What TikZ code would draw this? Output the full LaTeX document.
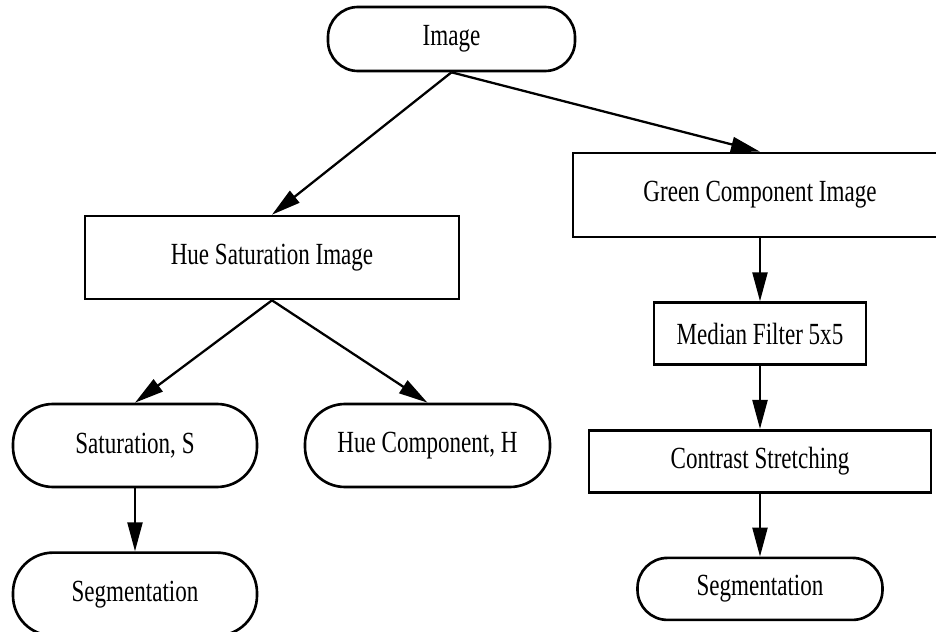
\documentclass[tikz,border=0pt]{standalone}
\usepackage{fontspec}
\setmainfont{Liberation Serif}[FakeStretch=0.75]
\usetikzlibrary{arrows.meta,positioning}
\begin{document}
\begin{tikzpicture}[
  box/.style={draw,line width=1.5pt,inner sep=0pt,
    font=\fontsize{17.5}{20}\selectfont},
  term/.style={box,rounded corners=6mm},
  tall/.style={term,rounded corners=8mm,minimum height=1.66cm},
  f/.style={-{Triangle[length=5.8mm,width=3mm]},line width=1.3pt}]
\clip (0,0) rectangle (18.72,-12.64);
\node[term,minimum width=4.94cm,minimum height=1.28cm] (img) at (9.03,-0.78) {Image};
\node[box,minimum width=7.48cm,minimum height=1.66cm] (hsi) at (5.44,-5.15) {Hue Saturation Image};
\node[box,minimum width=7.48cm,minimum height=1.68cm] (green) at (15.2,-3.9) {Green Component Image};
\node[box,minimum width=4.24cm,minimum height=1.24cm,below=1.26cm of green] (median) {Median Filter 5x5};
\node[box,minimum width=6.84cm,minimum height=1.24cm,below=1.26cm of median] (contrast) {Contrast Stretching};
\node[term,minimum width=4.9cm,minimum height=1.24cm,below=1.26cm of contrast] (segr) {Segmentation};
\node[tall,minimum width=4.88cm] (sat) at (2.7,-8.91) {Saturation, S};
\node[tall,minimum width=4.9cm] (hue) at (8.55,-8.91) {Hue Component, H};
\node[tall,minimum width=4.88cm,below=1.26cm of sat] (segl) {Segmentation};
\draw[f] (img.south)--(hsi.north);
\draw[f] (img.south)--(green.north);
\draw[f] (hsi.south)--(sat.north);
\draw[f] (hsi.south)--(hue.north);
\draw[f] (sat)--(segl);
\draw[f] (green)--(median);
\draw[f] (median)--(contrast);
\draw[f] (contrast)--(segr);
\end{tikzpicture}
\end{document}
